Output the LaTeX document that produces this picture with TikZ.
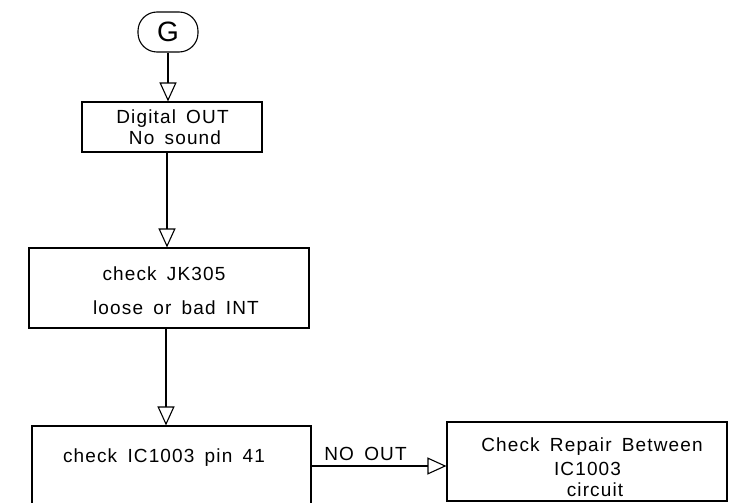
\documentclass[tikz,border=0pt]{standalone}
\usepackage{fontspec}
\setmainfont{Liberation Sans}[LetterSpace=6,WordSpace=1.6]
\usetikzlibrary{arrows.meta,calc}
\begin{document}
\begin{tikzpicture}[x=1pt,y=-1pt,
  box/.style={draw, line width=1.1pt, inner sep=0pt},
  lbl/.style={font=\fontsize{19}{22}\selectfont, inner sep=0pt, anchor=base},
  arr/.style={line width=1.1pt, -{Triangle[open,length=19pt,width=17pt,line width=1.1pt]}}
]
\clip (0,0) rectangle (742,503);
\fill[white] (0,0) rectangle (742,503);
% start terminal
\node[box, rounded corners=19pt, minimum width=60pt, minimum height=40pt,
      font=\fontsize{28}{30}\selectfont] (G) at (168,32) {G};
% boxes
\node[box, minimum width=180pt, minimum height=50pt] (b1) at (172,127) {};
\node[box, minimum width=280pt, minimum height=80pt] (b2) at (169,288) {};
\node[box, minimum width=279pt, minimum height=90pt] (b3) at (171.5,471) {};
\node[box, minimum width=280pt, minimum height=79pt] (b4) at (587,461.5) {};
% texts
\node[lbl] (t1a) at (172.5,124) {Digital OUT};
\node[lbl] (t1b) at (175,144) {No sound};
\node[lbl] (t2a) at (164,280) {check JK305};
\node[lbl] (t2b) at (176,314) {loose or bad INT};
\node[lbl] (t3) at (164,462) {check IC1003 pin 41};
\node[lbl] (t4a) at (592,451) {Check Repair Between};
\node[lbl] (t4b) at (587.5,475) {IC1003};
\node[lbl] (t4c) at (595,496) {circuit};
% connectors
\draw[arr] (G.south) -- (G.south |- b1.north);
\draw[arr] (167,152) coordinate (c1) -- (c1 |- b2.north);
\draw[arr] (166,328) coordinate (c2) -- (c2 |- b3.north);
\coordinate (c3) at (311,466);
\draw[arr] (c3) -- (c3 -| b4.west);
\node[lbl] (no) at (365.5,460) {NO OUT};
\end{tikzpicture}
\end{document}
